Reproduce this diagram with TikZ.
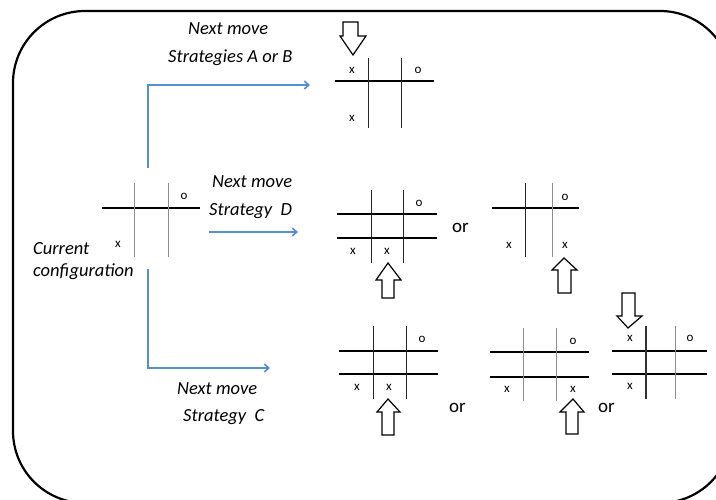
\documentclass[tikz,border=0pt]{standalone}
\usepackage{fontspec}
\setmainfont{Carlito}
\usetikzlibrary{arrows.meta}
\definecolor{connblue}{RGB}{85,142,213}
\begin{document}
\begin{tikzpicture}[x=1pt,y=-1pt,
  hline/.style={line width=1.1pt,black},
  thline/.style={line width=1.6pt,black},
  vline/.style={line width=0.8pt,black!85},
  gline/.style={line width=0.9pt,black!45},
  mk/.style={font=\fontsize{13}{13}\selectfont,inner sep=0pt},
  lab/.style={font=\fontsize{18.5}{18.5}\selectfont\itshape,inner sep=0pt,anchor=base west},
  orlab/.style={font=\fontsize{19}{19}\selectfont,inner sep=0pt,anchor=base west},
  conn/.style={draw=connblue,line width=1.6pt,-{Straight Barb[length=4.5pt,width=8pt,line width=1.6pt]}},
  blk/.style={draw,line width=1.2pt,fill=white,line join=miter}]
\useasboundingbox (0,0) rectangle (716,500);
\begin{scope}
\clip (0,0) rectangle (716,500);
\draw[line width=2.2pt,rounded corners=72pt] (13,11) rectangle (732,503);
\end{scope}

% texts
\node[lab] (nm1) at (188,35) {Next move};
\node[lab] (st1) at (168,63) {Strategies A or B};
\node[lab] (nm2) at (212,188) {Next move};
\node[lab] (st2) at (209,216) {Strategy\hspace{0.226em} D};
\node[lab] (nm3) at (177,394) {Next move};
\node[lab] (st3) at (183,421) {Strategy\hspace{0.226em} C};
\node[lab] (cur) at (33,255) {Current};
\node[lab] (cfg) at (33,277) {configuration};
\node[orlab] (or1) at (452,233) {or};
\node[orlab] (or2) at (449,412) {or};
\node[orlab] (or3) at (598,412) {or};

% current board
\draw[thline] (102,208) -- (200,208);
\draw[gline] (134,183) -- (134,257);
\draw[gline] (168,183) -- (168,257);
\node[mk] (c-o) at (184,196) {o};
\node[mk] (c-x) at (118,244) {x};

% connectors
\coordinate (up0) at (148,168);
\coordinate (upc) at (148,85);
\coordinate (upe) at (310,85);
\coordinate (md0) at (209,232);
\coordinate (mde) at (298,232);
\coordinate (dn0) at (148,269);
\coordinate (dnc) at (148,368);
\coordinate (dne) at (270,368);
\draw[conn] (up0) -- (upc) -- (upe);
\draw[conn] (md0) -- (mde);
\draw[conn] (dn0) -- (dnc) -- (dne);

% top board (A/B)
\draw[hline] (335,81) -- (434,81);
\draw[vline] (368,58) -- (368,128);
\draw[vline] (401,58) -- (401,128);
\node[mk] (t-x1) at (352,70) {x};
\node[mk] (t-o) at (418,70) {o};
\node[mk] (t-x2) at (352,118) {x};
\draw[blk] (343,22) -- (358,22) -- (358,36) -- (366,36) -- (353,55) -- (340,36) -- (343,36) -- cycle;

% D1
\draw[hline] (337,214) -- (437,214);
\draw[hline] (337,238) -- (437,238);
\draw[vline] (371,190) -- (371,263);
\draw[vline] (403,190) -- (403,263);
\node[mk] (d1-o) at (419,203) {o};
\node[mk] (d1-x1) at (353,251) {x};
\node[mk] (d1-x2) at (387,251) {x};
\draw[blk] (388,263) -- (401,280) -- (394,280) -- (394,298) -- (382,298) -- (382,280) -- (376,280) -- cycle;

% D2
\draw[thline] (492,208) -- (579,208);
\draw[vline] (525,183) -- (525,257);
\draw[gline] (552,183) -- (552,257);
\node[mk] (d2-o) at (565,197) {o};
\node[mk] (d2-x1) at (509,245) {x};
\node[mk] (d2-x2) at (565,245) {x};
\draw[blk] (564,258) -- (577,270) -- (571,270) -- (571,293) -- (558,293) -- (558,270) -- (552,270) -- cycle;

% C1
\draw[hline] (339,351) -- (438,351);
\draw[hline] (339,374) -- (438,374);
\draw[vline] (373,326) -- (373,399);
\draw[vline] (406,326) -- (406,399);
\node[mk] (c1-o) at (422,339) {o};
\node[mk] (c1-x1) at (357,387) {x};
\node[mk] (c1-x2) at (389,387) {x};
\draw[blk] (388,399) -- (400,412) -- (394,412) -- (394,435) -- (382,435) -- (382,412) -- (377,412) -- cycle;

% C2
\draw[hline] (490,352) -- (589,352);
\draw[hline] (490,377) -- (589,377);
\draw[gline] (523,328) -- (523,401);
\draw[gline] (556,328) -- (556,401);
\node[mk] (c2-o) at (573,341) {o};
\node[mk] (c2-x1) at (507,389) {x};
\node[mk] (c2-x2) at (573,389) {x};
\draw[blk] (573,399) -- (584,412) -- (578,412) -- (578,434) -- (566,434) -- (566,412) -- (560,412) -- cycle;

% C3
\draw[hline] (612,351) -- (707,351);
\draw[hline] (612,374) -- (707,374);
\draw[line width=1.3pt,black!80] (646,326) -- (646,399);
\draw[gline] (675,326) -- (675,399);
\node[mk] (c3-x1) at (630,338) {x};
\node[mk] (c3-o) at (690,338) {o};
\node[mk] (c3-x2) at (630,386) {x};
\draw[blk] (622,293) -- (635,293) -- (635,316) -- (642,316) -- (628,328) -- (617,316) -- (622,316) -- cycle;
\end{tikzpicture}
\end{document}
